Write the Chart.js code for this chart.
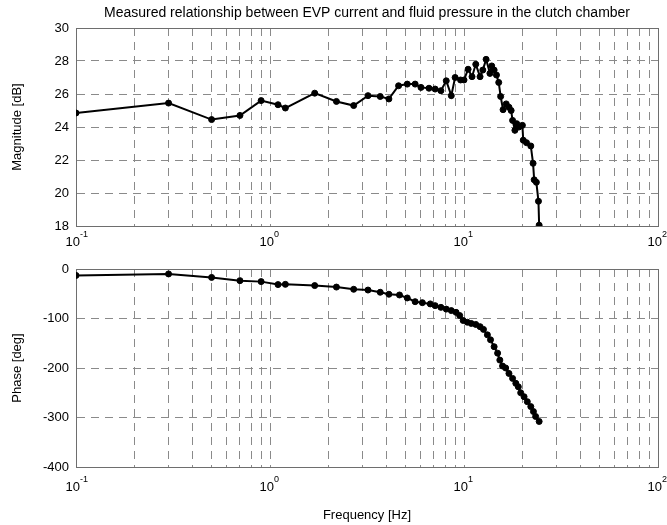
<!DOCTYPE html>
<html lang="en">
<head>
    <meta charset="UTF-8">
    <title>EVP current vs clutch pressure</title>
    <style>
        body {
            margin: 0;
            background: #ffffff;
        }

        .plots {
            width: 667px;
            height: 525px;
        }

        canvas {
            display: block;
        }
    </style>
    <script src="https://cdn.jsdelivr.net/npm/chart.js"></script>
</head>
<body>
<div class="plots">
    <canvas id="magChart" width="667" height="250"></canvas>
    <canvas id="phaseChart" width="667" height="275"></canvas>
</div>

<script>
    // measured points
    const magFreq = [0.1, 0.3, 0.5, 0.7, 0.9, 1.1, 1.2, 1.7, 2.2, 2.7,
        3.2, 3.7, 4.1, 4.6, 5.1, 5.6, 6.0, 6.6, 7.1, 7.6,
        8.1, 8.6, 9.0, 9.6, 10.0, 10.5, 11.0, 11.5, 12.1, 12.5,
        13.0, 13.6, 13.9, 14.3, 14.7, 15.1, 15.45, 15.9, 16.5, 17.05,
        17.5, 17.8, 18.3, 18.7, 19.2, 20.0, 20.2, 21.0, 22.1, 22.7,
        23.0, 23.6, 24.2, 24.4];
    const magDb = [24.85, 25.45, 24.45, 24.7, 25.6, 25.35, 25.15, 26.05, 25.55, 25.3,
        25.9, 25.85, 25.7, 26.5, 26.6, 26.6, 26.4, 26.35, 26.3, 26.2,
        26.8, 25.9, 27.0, 26.85, 26.85, 27.5, 27.05, 27.8, 27.05, 27.45,
        28.1, 27.25, 27.7, 27.45, 27.15, 26.7, 25.85, 25.05, 25.4, 25.2,
        25.0, 24.4, 23.8, 24.2, 24.0, 24.1, 23.2, 23.05, 22.85, 21.8,
        20.8, 20.65, 19.5, 18.05];

    const phaseFreq = [0.1, 0.3, 0.5, 0.7, 0.9, 1.1, 1.2, 1.7, 2.2, 2.7,
        3.2, 3.7, 4.1, 4.65, 5.1, 5.6, 6.1, 6.7, 7.1, 7.6,
        8.1, 8.6, 9.1, 9.5, 9.9, 10.4, 10.9, 11.5, 12.1, 12.6,
        13.2, 13.7, 14.3, 14.9, 15.3, 15.8, 16.4, 17.05, 17.8, 18.5,
        19.05, 19.6, 20.4, 21.2, 22.1, 22.8, 23.4, 24.4];
    const phaseDeg = [-13, -10, -17, -23.5, -25.5, -31.5, -31, -33.5, -36.5, -41,
        -42.5, -47, -51, -52.5, -58.5, -66, -68, -70.5, -74, -77.5,
        -81, -84, -87.5, -94, -104, -107.5, -110, -112, -116.5, -122,
        -133, -143, -157, -170, -184, -196, -200, -211, -221, -231,
        -238, -250, -258, -268, -278, -288, -298, -308];

    const decades = [0.1, 1, 10, 100];
    const decadeExp = ['-1', '0', '1', '2'];

    const FONT = '"Liberation Sans", Arial, sans-serif';

    // grid at 1..9 x 10^k like matlab's log grid
    const xGridTicks = [];
    decades.forEach((d, i) => {
        const last = i === decades.length - 1 ? 1 : 9;
        for (let m = 1; m <= last; m++) xGridTicks.push(+(m * d).toPrecision(3));
    });

    // full box round the axes
    const frame = {
        id: 'frame',
        beforeDatasetsDraw(chart) {
            const {ctx, chartArea: a} = chart;
            ctx.save();
            ctx.strokeStyle = '#6e6e6e';
            ctx.lineWidth = 1;
            ctx.strokeRect(Math.round(a.left) + 0.5, Math.round(a.top) + 0.5,
                Math.round(a.width), Math.round(a.height));
            ctx.restore();
        }
    };

    // 10^n labels under the x axis
    const decadeLabels = {
        id: 'decadeLabels',
        afterDraw(chart, args, opts) {
            const ctx = chart.ctx;
            const scale = chart.scales.x;
            const y = chart.chartArea.bottom + opts.offset;
            ctx.save();
            ctx.fillStyle = '#000';
            ctx.textBaseline = 'middle';
            decades.forEach((v, i) => {
                const px = scale.getPixelForValue(v);
                ctx.font = '13px ' + FONT;
                ctx.textAlign = 'right';
                ctx.fillText('10', px + 4, y);
                ctx.font = '9px ' + FONT;
                ctx.textAlign = 'left';
                ctx.fillText(decadeExp[i], px + 4, y - 7);
            });
            ctx.restore();
        }
    };

    function makeOptions(cfg) {
        return {
            responsive: false,
            animation: false,
            layout: {padding: {top: cfg.padTop, right: 9, left: 0, bottom: 0}},
            plugins: {
                legend: {display: false},
                tooltip: {enabled: false},
                title: {
                    display: !!cfg.title,
                    text: cfg.title,
                    fullSize: false,
                    color: '#000',
                    font: {family: FONT, size: 14, weight: 'normal', lineHeight: 1.2},
                    padding: {top: 5, bottom: 6.2}
                },
                decadeLabels: {offset: cfg.labelOffset}
            },
            scales: {
                x: {
                    type: 'logarithmic',
                    min: 0.1,
                    max: 100,
                    afterBuildTicks: s => { s.ticks = xGridTicks.map(v => ({value: v})); },
                    afterFit: s => { s.height = cfg.xHeight; },
                    ticks: {autoSkip: false, callback: () => ''},
                    grid: {color: '#8a8a8a', drawTicks: false},
                    border: {color: '#6e6e6e', dash: [8, 6]},
                    title: {
                        display: !!cfg.xTitle,
                        text: cfg.xTitle,
                        color: '#000',
                        font: {family: FONT, size: 13, lineHeight: 1.2},
                        padding: {top: 0, bottom: 2}
                    }
                },
                y: {
                    min: cfg.yMin,
                    max: cfg.yMax,
                    afterFit: s => { s.width = 76; },
                    ticks: {
                        stepSize: cfg.yStep,
                        color: '#000',
                        padding: 7,
                        font: {family: FONT, size: 13}
                    },
                    grid: {color: '#8a8a8a', drawTicks: false},
                    border: {color: '#6e6e6e', dash: [8, 6]},
                    title: {
                        display: true,
                        text: cfg.yTitle,
                        color: '#000',
                        font: {family: FONT, size: 13, lineHeight: 1.2},
                        padding: {top: 10, bottom: 0}
                    }
                }
            }
        };
    }

    function lineData(xs, ys) {
        return {
            datasets: [{
                data: xs.map((f, i) => ({x: f, y: ys[i]})),
                borderColor: '#000',
                backgroundColor: '#000',
                borderWidth: 2,
                pointRadius: 3,
                pointBorderWidth: 1,
                pointBackgroundColor: '#000',
                tension: 0
            }]
        };
    }

    new Chart(document.getElementById('magChart'), {
        type: 'line',
        data: lineData(magFreq, magDb),
        options: makeOptions({
            title: 'Measured relationship between EVP current and fluid pressure in the clutch chamber',
            padTop: 0, xHeight: 24, labelOffset: 16,
            yMin: 18, yMax: 30, yStep: 2, yTitle: 'Magnitude [dB]'
        }),
        plugins: [frame, decadeLabels]
    });

    new Chart(document.getElementById('phaseChart'), {
        type: 'line',
        data: lineData(phaseFreq, phaseDeg),
        options: makeOptions({
            title: '', xTitle: 'Frequency [Hz]',
            padTop: 19, xHeight: 58, labelOffset: 20,
            yMin: -400, yMax: 0, yStep: 100, yTitle: 'Phase [deg]'
        }),
        plugins: [frame, decadeLabels]
    });
</script>
</body>
</html>
